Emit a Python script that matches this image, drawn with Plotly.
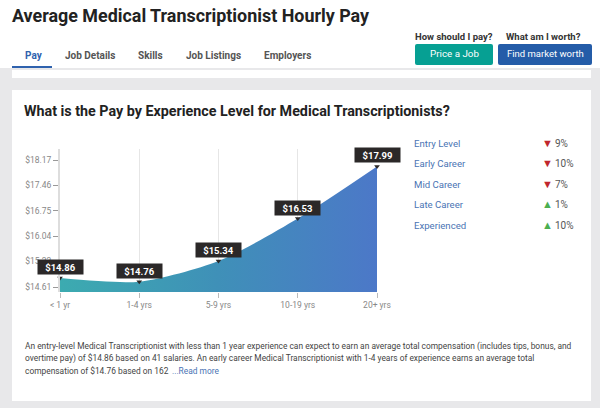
import plotly.graph_objects as go

W = 600
H = 408

# chart values
experience = ["< 1 yr", "1-4 yrs", "5-9 yrs", "10-19 yrs", "20+ yrs"]
pay = [14.86, 14.76, 15.34, 16.53, 17.99]
pay_ticks = [14.61, 15.33, 16.04, 16.75, 17.46, 18.17]

# table on the right
levels = ["Entry Level", "Early Career", "Mid Career", "Late Career", "Experienced"]
changes = [-9, -10, -7, 1, 10]

tabs = ["Pay", "Job Details", "Skills", "Job Listings", "Employers"]
tab_x = [24, 64, 137, 185, 263]
body_lines = [
    "An entry-level Medical Transcriptionist with less than 1 year experience can expect to earn an average total compensation (includes tips, bonus, and",
    "overtime pay) of $14.86 based on 41 salaries. An early career Medical Transcriptionist with 1-4 years of experience earns an average total",
    "compensation of $14.76 based on 162",
]

FONT = "Roboto"


def px(x):
    return x / W


def py(y):
    return 1 - y / H


def label(x, y, text, size=10, color="#333333", anchor="left", bold=False):
    if bold:
        text = "<b>" + text + "</b>"
    return dict(xref="paper", yref="paper", x=px(x), y=py(y), text=text, showarrow=False,
                xanchor=anchor, yanchor="middle", align=anchor, borderpad=0,
                font=dict(family=FONT, size=size, color=color))


def box(x0, y0, x1, y1, color):
    return dict(type="rect", xref="paper", yref="paper", x0=px(x0), x1=px(x1), y0=py(y0), y1=py(y1),
                fillcolor=color, line=dict(width=0), layer="below")


def button(x0, y0, x1, y1, color, r=2):
    # rounded rectangle, corners in page pixels
    pts = [
        "M %f,%f" % (px(x0 + r), py(y0)), "L %f,%f" % (px(x1 - r), py(y0)),
        "Q %f,%f %f,%f" % (px(x1), py(y0), px(x1), py(y0 + r)), "L %f,%f" % (px(x1), py(y1 - r)),
        "Q %f,%f %f,%f" % (px(x1), py(y1), px(x1 - r), py(y1)), "L %f,%f" % (px(x0 + r), py(y1)),
        "Q %f,%f %f,%f" % (px(x0), py(y1), px(x0), py(y1 - r)), "L %f,%f" % (px(x0), py(y0 + r)),
        "Q %f,%f %f,%f Z" % (px(x0), py(y0), px(x0 + r), py(y0)),
    ]
    return dict(type="path", xref="paper", yref="paper", path=" ".join(pts),
                fillcolor=color, line=dict(width=0), layer="below")


fig = go.Figure()

fig.add_trace(go.Scatter(
    x=experience, y=pay, mode="lines", fill="tozeroy",
    line=dict(shape="spline", smoothing=0.75, width=0, color="rgba(0,0,0,0)"),
    fillgradient=dict(type="horizontal", colorscale=[[0, "#3CABB0"], [0.5, "#3F90B8"], [1, "#4C78C8"]]),
    hoverinfo="skip", showlegend=False,
))
fig.add_trace(go.Scatter(
    x=experience, y=pay, mode="markers",
    marker=dict(symbol="triangle-down", size=5, color="#2B2828"),
    hoverinfo="skip", showlegend=False, cliponaxis=False,
))

shapes = [
    box(0, 68, W, H, "#E8E8EA"),
    box(12, 70, 591, 78, "#FFFFFF"),
    box(12, 90, 591, 401, "#FFFFFF"),
    box(12, 66, 52, 68, "#2F62AE"),
    button(415, 44, 493, 65, "#06A093"),
    button(498, 44, 592, 65, "#245CA8"),
]

annotations = [
    label(11, 16, "Average Medical Transcriptionist Hourly Pay", size=17.9, color="#222222", bold=True),
    label(454, 36, "How should I pay?", size=9.5, color="#333333", anchor="center", bold=True),
    label(543, 36, "What am I worth?", size=9.5, color="#333333", anchor="center", bold=True),
    label(454, 54, "Price a Job", size=9.8, color="#FFFFFF", anchor="center"),
    label(545, 54, "Find market worth", size=9.5, color="#FFFFFF", anchor="center"),
    label(23, 111, "What is the Pay by Experience Level for Medical Transcriptionists?", size=14.3, color="#222222", bold=True),
]

for i, tab in enumerate(tabs):
    annotations.append(label(tab_x[i], 56, tab, size=10, color="#2F62AE" if i == 0 else "#555555", bold=True))

for i, level in enumerate(levels):
    y = 143.5 + i * 20.4
    annotations.append(label(413, y, level, size=9.6, color="#4A74B4"))
    arrow = "▼" if changes[i] < 0 else "▲"
    annotations.append(label(547, y, arrow, size=11, color="#C0272D" if changes[i] < 0 else "#4CAF50", anchor="center"))
    annotations.append(label(554, y, str(abs(changes[i])) + "%", size=10, color="#555555"))

for i, line in enumerate(body_lines):
    annotations.append(label(24, 346 + i * 12.5, line, size=8.4, color="#444444"))
annotations.append(label(171, 371, "...Read more", size=8.4, color="#4A74B4"))

# price tags over the points
for name, value in zip(experience, pay):
    annotations.append(dict(
        x=name, y=value, xref="x", yref="y", text="<b>$%.2f</b>" % value, showarrow=False,
        yanchor="bottom", yshift=3, width=43, height=12, borderpad=1,
        bgcolor="#2B2828", font=dict(family=FONT, size=9.5, color="#FFFFFF"),
    ))

fig.update_layout(
    width=W, height=H, autosize=False,
    margin=dict(l=0, r=0, t=0, b=0, autoexpand=False),
    paper_bgcolor="#FFFFFF", plot_bgcolor="rgba(0,0,0,0)",
    shapes=shapes, annotations=annotations,
    font=dict(family=FONT),
    xaxis=dict(
        domain=[px(60), px(377)], type="category", categoryorder="array", categoryarray=experience,
        range=[0, 4], showgrid=True, gridcolor="#E6E6E6", gridwidth=1, zeroline=False, showline=False,
        ticks="outside", ticklen=5, tickcolor="#BBBBBB", tickfont=dict(family=FONT, size=8.5, color="#888888"),
    ),
    yaxis=dict(
        domain=[py(292), py(149)], range=[14.47, 18.48], tickmode="array", tickvals=pay_ticks,
        ticktext=["$%.2f" % v for v in pay_ticks], showgrid=False, zeroline=False,
        showline=True, linecolor="#DDDDDD", linewidth=2,
        ticks="outside", ticklen=5, tickcolor="#999999", tickfont=dict(family=FONT, size=8.5, color="#888888"),
    ),
)

fig.write_html("out.html", config=dict(displayModeBar=False),
               post_script="document.body.style.margin='0';document.body.style.overflow='hidden';")
